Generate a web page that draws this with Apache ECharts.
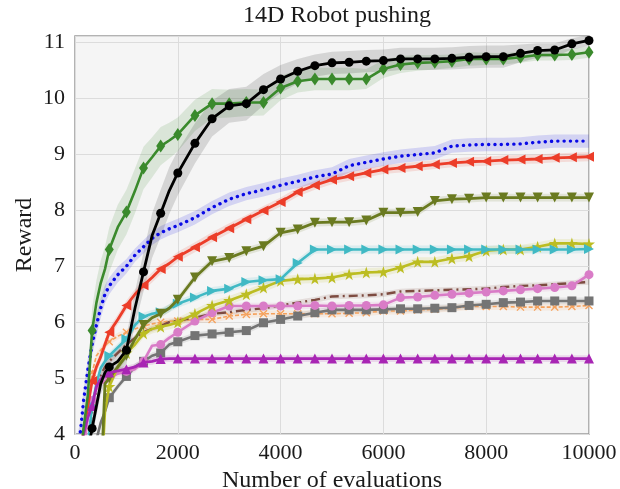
<!DOCTYPE html>
<html><head><meta charset="utf-8">
<script src="https://cdn.jsdelivr.net/npm/echarts@6/dist/echarts.min.js"></script>
<style>html,body{margin:0;padding:0;background:#fff}#c{width:620px;height:489px}</style>
</head><body><div id="c"></div>
<script>
// Evaluation grid (x positions)
const X = [0,100,167,250,333,417,500,583,667,833,1000,1167,1333,1500,1667,1833,2000,2333,2667,3000,3333,3667,4000,4333,4667,5000,5333,5667,6000,6333,6667,7000,7333,7667,8000,8333,8667,9000,9333,9667,10000];
const X_TICKS = [0,2000,4000,6000,8000,10000];
const Y_TICKS = [4,5,6,7,8,9,10,11];

// Mean reward per method
const BLACK = [null,null,3.0,3.7,4.1, 4.5,4.9,5.1,5.2,5.3, 5.5,6.25,6.9,7.55,7.95, 8.35,8.67,9.2,9.64,9.87, 9.91,10.16,10.35,10.49,10.59, 10.64,10.65,10.67,10.68,10.71, 10.71,10.71,10.72,10.74,10.75, 10.75,10.81,10.86,10.87,10.98, 11.04];
const GREEN = [3.0,3.5,4.1,4.7,5.85, 6.35,6.7,6.95,7.3,7.7, 7.97,8.35,8.76,8.95,9.15, 9.25,9.36,9.7,9.91,9.91, 9.93,9.93,10.19,10.31,10.35, 10.35,10.35,10.35,10.53,10.61, 10.64,10.65,10.67,10.71,10.71, 10.71,10.74,10.78,10.78,10.79, 10.83];
const BLUE = [3.6,4.0,4.6,5.15,5.6, 5.95,6.25,6.5,6.65,6.85, 7.0,7.2,7.35,7.5,7.6, 7.67,7.73,7.87,8.05,8.2, 8.3,8.37,8.45,8.52,8.6, 8.65,8.8,8.86,8.92,8.97, 9.0,9.03,9.15,9.17,9.18, 9.18,9.19,9.22,9.24,9.24, 9.24];
const RED = [null,3.6,4.05,4.5,4.95, 5.2,5.38,5.6,5.82,6.05, 6.3,6.5,6.66,6.8,6.95, 7.05,7.17,7.34,7.52,7.68, 7.84,8.0,8.15,8.33,8.45, 8.55,8.61,8.67,8.73,8.76, 8.79,8.82,8.85,8.87,8.88, 8.9,8.91,8.92,8.94,8.95, 8.96];
const OLIVE = [null,null,null,null,null, null,3.0,4.9,5.0,5.2, 5.4,5.7,5.95,6.08,6.15, 6.25,6.4,6.8,7.09,7.15, 7.27,7.36,7.6,7.66,7.78, 7.79,7.79,7.82,7.96,7.96, 7.97,8.17,8.2,8.21,8.23, 8.23,8.23,8.23,8.23,8.23, 8.23];
const CYAN = [null,null,null,3.8,4.5, 4.9,5.18,5.3,5.4,5.55, 5.7,5.95,6.1,6.15,6.18, 6.25,6.33,6.44,6.56,6.6, 6.72,6.75,6.77,7.06,7.3, 7.3,7.3,7.3,7.3,7.3, 7.3,7.3,7.3,7.3,7.3, 7.3,7.3,7.3,7.3,7.3, 7.31];
const YELLOW = [null,null,null,null,null, null,3.0,4.4,4.85,5.2, 5.45,5.6,5.8,5.88,5.92, 5.95,6.0,6.15,6.3,6.39, 6.5,6.62,6.74,6.77,6.78, 6.8,6.86,6.89,6.9,6.98, 7.08,7.08,7.14,7.18,7.28, 7.3,7.3,7.35,7.41,7.41, 7.4];
const PINK = [null,null,3.7,4.3,4.6, 4.8,4.9,4.95,5.0,5.08, 5.12,5.16,5.3,5.58,5.6, 5.72,5.82,6.02,6.17,6.29, 6.29,6.29,6.29,6.29,6.3, 6.29,6.3,6.3,6.31,6.44, 6.45,6.48,6.5,6.52,6.54, 6.56,6.58,6.6,6.62,6.65, 6.85];
const BROWN = [null,null,null,3.8,4.4, 4.8,5.05,5.2,5.3,5.45, 5.6,5.72,5.82,5.88,5.93, 6.0,6.03,6.08,6.15,6.18, 6.22,6.25,6.3,6.35,6.4, 6.46,6.47,6.48,6.5,6.55, 6.56,6.57,6.58,6.59,6.6, 6.63,6.65,6.66,6.68,6.7, 6.72];
const GRAY = [null,null,null,null,null, 3.9,4.2,4.4,4.65,4.85, 5.03,5.2,5.3,5.4,5.45, 5.6,5.65,5.76,5.79,5.82, 5.85,5.99,6.05,6.11,6.17, 6.22,6.22,6.22,6.23,6.24, 6.24,6.25,6.26,6.3,6.32, 6.35,6.36,6.38,6.38,6.38, 6.38];
const ORANGE = [null,null,3.8,4.6,5.1, 5.4,5.5,5.6,5.65,5.75, 5.82,5.88,5.93,5.97,6.0, 6.02,6.02,6.05,6.05,6.11, 6.14,6.15,6.15,6.15,6.15, 6.15,6.16,6.17,6.2,6.2, 6.22,6.23,6.25,6.28,6.28, 6.28,6.27,6.27,6.27,6.28, 6.3];
const MAGENTA = [null,3.6,4.0,4.3,4.5, 4.85,4.98,5.05,5.1,5.13, 5.16,5.2,5.28,5.3,5.34, 5.35,5.35,5.35,5.35,5.35, 5.35,5.35,5.35,5.35,5.35, 5.35,5.35,5.35,5.35,5.35, 5.35,5.35,5.35,5.35,5.35, 5.35,5.35,5.35,5.35,5.35, 5.35];

// Half-widths of the shaded bands
const BLACK_SE = [0.1,0.1,0.1,0.12,0.15, 0.18,0.2,0.2,0.2,0.22, 0.25,0.3,0.35,0.4,0.42, 0.42,0.4,0.36,0.32,0.3, 0.3,0.28,0.25,0.22,0.2, 0.2,0.2,0.2,0.2,0.2, 0.2,0.2,0.2,0.2,0.2, 0.2,0.16,0.13,0.12,0.1, 0.1];
const GREEN_SE = [0.2,0.25,0.3,0.35,0.4, 0.4,0.4,0.4,0.4,0.4, 0.4,0.4,0.38,0.36,0.34, 0.32,0.3,0.28,0.26,0.25, 0.24,0.23,0.22,0.2,0.2, 0.2,0.2,0.18,0.16,0.15, 0.14,0.13,0.12,0.12,0.11, 0.1,0.1,0.1,0.1,0.1, 0.1];
const BLUE_SE = [0.2,0.2,0.2,0.2,0.2, 0.2,0.18,0.16,0.15,0.14, 0.13,0.12,0.12,0.12,0.12, 0.12,0.12,0.12,0.12,0.12, 0.12,0.12,0.12,0.12,0.12, 0.12,0.12,0.12,0.12,0.12, 0.12,0.12,0.12,0.12,0.12, 0.12,0.12,0.12,0.12,0.12, 0.12];
const RED_SE = [0.1,0.1,0.1,0.1,0.1, 0.1,0.1,0.1,0.09,0.09, 0.09,0.09,0.09,0.09,0.09, 0.09,0.09,0.09,0.09,0.09, 0.08,0.08,0.08,0.08,0.08, 0.08,0.08,0.08,0.08,0.08, 0.08,0.08,0.08,0.08,0.08, 0.08,0.08,0.08,0.08,0.08, 0.08];
// olive, cyan, yellow, pink, brown, gray, orange, magenta
const MINOR_SE = [0.07,0.07,0.08,0.06,0.05,0.06,0.06,0.06];

const STAR = 'path://M50,0 L61,35 L98,35 L68,57 L79,91 L50,70 L21,91 L32,57 L2,35 L39,35 Z';
const CROSS = 'path://M0,12 L12,0 L50,38 L88,0 L100,12 L62,50 L100,88 L88,100 L50,62 L12,100 L0,88 L38,50 Z';

const methods = [
  {y: ORANGE, se: X.map(()=>MINOR_SE[6]), color:'#f5a15c', sym: CROSS, size: 8, rot: 0, lt: [4,2], lw: 1.6},
  {y: BROWN, se: X.map(()=>MINOR_SE[4]), color:'#7d4b40', sym: 'none', size: 0, rot: 0, lt: [9,4,2,4], lw: 2.4},
  {y: GRAY, se: X.map(()=>MINOR_SE[5]), color:'#747474', sym: 'rect', size: 9, rot: 0, lt: 'solid', lw: 2.6},
  {y: PINK, se: X.map(()=>MINOR_SE[3]), color:'#d97cc7', sym: 'circle', size: 9, rot: 0, lt: 'solid', lw: 2.6},
  {y: YELLOW, se: X.map(()=>MINOR_SE[2]), color:'#bcbd22', sym: STAR, size: 12, rot: 0, lt: 'solid', lw: 2.6},
  {y: CYAN, se: X.map(()=>MINOR_SE[1]), color:'#40b9c4', sym: 'triangle', size: 10, rot: -90, lt: 'solid', lw: 2.6},
  {y: OLIVE, se: X.map(()=>MINOR_SE[0]), color:'#6a7a20', sym: 'triangle', size: 10, rot: 180, lt: 'solid', lw: 2.8},
  {y: RED, se: RED_SE, color:'#ec3d29', sym: 'triangle', size: 10, rot: 90, lt: 'solid', lw: 2.8},
  {y: BLUE, se: BLUE_SE, color:'#0a0ae6', sym: 'none', size: 0, rot: 0, lt: [0.1,6.2], lw: 3.4, cap:'round'},
  {y: MAGENTA, se: X.map(()=>MINOR_SE[7]), color:'#a826b4', sym: 'triangle', size: 10, rot: 0, lt: 'solid', lw: 2.8},
  {y: GREEN, se: GREEN_SE, color:'#3a8a2c', sym: 'diamond', size: [9,13], rot: 0, lt: 'solid', lw: 2.6},
  {y: BLACK, se: BLACK_SE, color:'#000000', sym: 'circle', size: 9, rot: 0, lt: 'solid', lw: 2.8}
];

function rgba(hex, a) {
  const n = parseInt(hex.slice(1), 16);
  return 'rgba(' + ((n >> 16) & 255) + ',' + ((n >> 8) & 255) + ',' + (n & 255) + ',' + a + ')';
}
function isMarker(x) { const k = x * 3 / 1000; return x > 0 && Math.abs(k - Math.round(k)) < 0.02; }

const series = [];
methods.forEach((m, mi) => {
  series.push({
    type: 'custom', coordinateSystem: 'cartesian2d', clip: true, silent: true, z: 1,
    data: [[5000, 7]],
    renderItem: (params, api) => {
      const up = [], lo = [];
      X.forEach((x, i) => {
        if (m.y[i] == null) return;
        up.push(api.coord([x, m.y[i] + m.se[i]]));
        lo.push(api.coord([x, m.y[i] - m.se[i]]));
      });
      return {type: 'polygon', shape: {points: up.concat(lo.reverse())}, style: {fill: rgba(m.color, m.color === '#000000' ? 0.13 : 0.14), stroke: null}};
    }
  });
});
methods.forEach((m, mi) => {
  const data = [];
  X.forEach((x, i) => {
    if (m.y[i] == null) return;
    const show = m.sym !== 'none' && isMarker(x);
    data.push({value: [x, m.y[i]], symbol: show ? m.sym : 'none', symbolSize: m.size, symbolRotate: m.rot});
  });
  series.push({
    type: 'line', data: data, z: 3 + mi, clip: true, silent: true, animation: false,
    showSymbol: true, showAllSymbol: true,
    lineStyle: {color: m.color, width: m.lw, type: m.lt, cap: m.cap || 'butt', join: 'round'},
    itemStyle: {color: m.color, borderWidth: 0}
  });
});

const FONT = 'Liberation Serif';
const chart = echarts.init(document.getElementById('c'), null, {renderer: 'canvas'});
chart.setOption({
  animation: false,
  backgroundColor: '#ffffff',
  title: {text: '14D Robot pushing', left: 332, top: -1, textAlign: 'center',
    textStyle: {fontFamily: FONT, fontSize: 24, fontWeight: 'normal', color: '#1a1a1a'}},
  grid: {left: 75, right: 31, top: 36, bottom: 55, containLabel: false, outerBoundsMode: 'none',
    show: true, backgroundColor: '#f5f5f5', borderColor: '#9a9a9a', borderWidth: 1.5},
  xAxis: {
    type: 'value', min: X_TICKS[0], max: X_TICKS[X_TICKS.length - 1], interval: X_TICKS[1] - X_TICKS[0],
    name: 'Number of evaluations', nameLocation: 'middle', nameGap: 32,
    nameTextStyle: {fontFamily: FONT, fontSize: 24, color: '#1a1a1a'},
    axisLine: {show: false}, axisTick: {show: false},
    axisLabel: {fontFamily: FONT, fontSize: 22, color: '#1a1a1a', margin: 8, formatter: v => String(v)},
    splitLine: {show: true, lineStyle: {color: '#dcdcdc', width: 1}}
  },
  yAxis: {
    type: 'value', min: Y_TICKS[0], max: 11.12, interval: Y_TICKS[1] - Y_TICKS[0],
    name: 'Reward', nameLocation: 'middle', nameGap: 38, nameRotate: 90, nameMoveOverlap: false,
    nameTextStyle: {fontFamily: FONT, fontSize: 24, color: '#1a1a1a'},
    axisLine: {show: false}, axisTick: {show: false},
    axisLabel: {fontFamily: FONT, fontSize: 22, color: '#1a1a1a', margin: 10, showMaxLabel: false,
      formatter: v => (Y_TICKS.indexOf(v) >= 0 ? String(v) : '')},
    splitLine: {show: true, lineStyle: {color: '#dcdcdc', width: 1}}
  },
  series: series
});
</script></body></html>
